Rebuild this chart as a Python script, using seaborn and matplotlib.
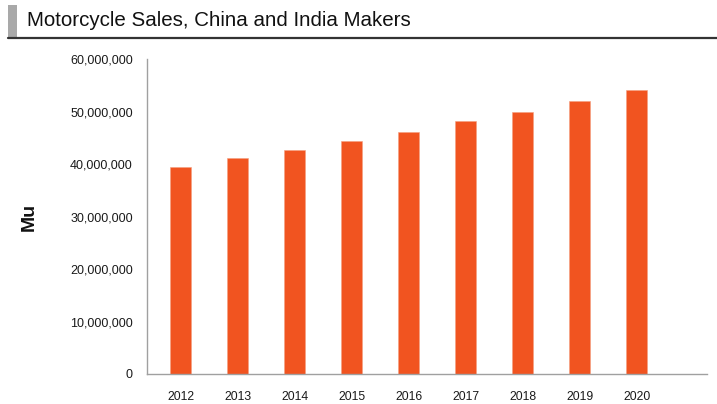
import matplotlib
matplotlib.use("Agg")
import matplotlib.pyplot as plt
import seaborn as sns
import pandas as pd
from matplotlib.patches import Rectangle
from matplotlib.lines import Line2D
from matplotlib.ticker import FuncFormatter

years = ["2012", "2013", "2014", "2015", "2016", "2017", "2018", "2019", "2020"]
sales = [39.4e6, 41.2e6, 42.6e6, 44.3e6, 46.1e6, 48.2e6, 49.9e6, 52.0e6, 54.1e6]
title = "Motorcycle Sales, China and India Makers"
ylabel = "Mu"

sns.set_style("white")
plt.rcParams['font.family'] = ['Liberation Sans', 'DejaVu Sans']

df = pd.DataFrame({"year": years, "sales": sales})

fig = plt.figure(figsize=(7.17, 4.04), dpi=100)
ax = fig.add_axes([146.7/717, 1-374/404, (707-146.7)/717, (374-59)/404])
sns.barplot(data=df, x="year", y="sales", color="#F15420", saturation=1,
            width=0.37, edgecolor="#F5A080", linewidth=0.4, ax=ax)

ax.set_ylim(0, 60e6)
ax.set_xlim(-0.60, 9.23)
ax.set_yticks([0, 10e6, 20e6, 30e6, 40e6, 50e6, 60e6])
ax.yaxis.set_major_formatter(FuncFormatter(lambda v, p: f"{int(v):,}"))
ax.tick_params(axis='both', length=0, colors="#1a1a1a")
ax.tick_params(axis='y', pad=10, labelsize=9)
ax.tick_params(axis='x', pad=12, labelsize=8.8)
for lbl in ax.get_xticklabels() + ax.get_yticklabels():
    lbl.set_fontweight('medium')
ax.set_xlabel("")
ax.set_ylabel(ylabel, fontsize=14, fontweight='bold', labelpad=23, color="#111111")
for s in ["top", "right"]:
    ax.spines[s].set_visible(False)
for s in ["left", "bottom"]:
    ax.spines[s].set_color("#A0A0A0")
    ax.spines[s].set_linewidth(1.0)

# title decoration
fig.patches.append(Rectangle((8/717, 1-37/404), 9/717, 32/404, transform=fig.transFigure,
                             facecolor="#A9A9A9", edgecolor="none"))
fig.lines.append(Line2D([8/717, 1], [1-37.5/404, 1-37.5/404], transform=fig.transFigure,
                        color="#333333", linewidth=1.6))
fig.text(27/717, 1-21/404, title, fontsize=14.8, color="#111111", va="center", ha="left")

fig.savefig("out.png", dpi=100)
